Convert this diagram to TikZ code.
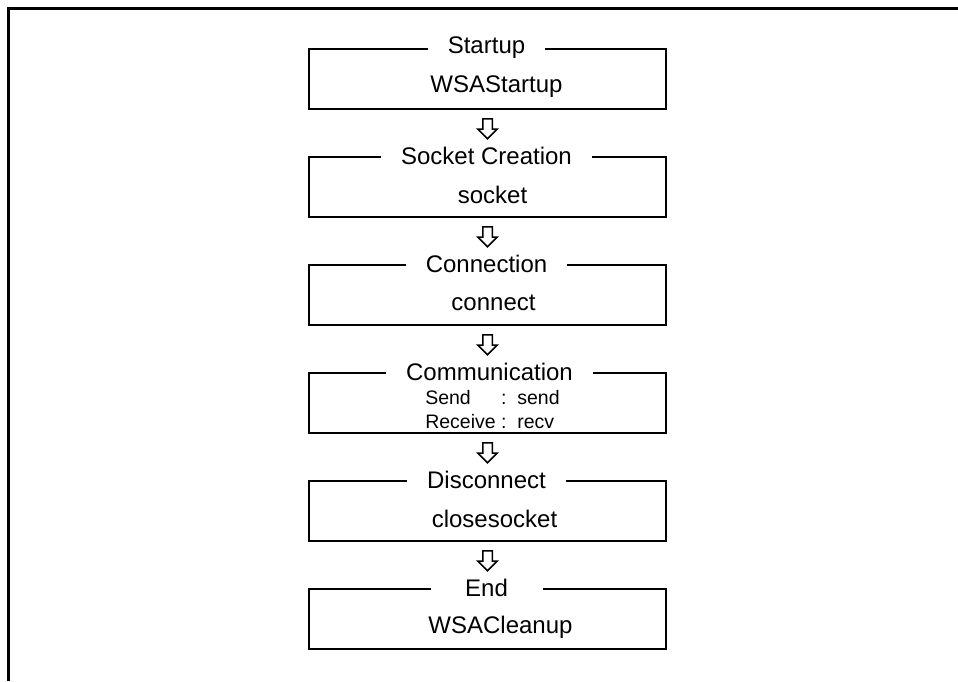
\documentclass[tikz,border=0pt]{standalone}
\usepackage{fontspec}
\setmainfont{Liberation Sans}
\usetikzlibrary{positioning,shapes.arrows}

\begin{document}
\begin{tikzpicture}[
    x=1pt, y=1pt,
    node distance=46pt,
    stage/.style={
        rectangle, draw=black, line width=2pt,
        minimum width=357pt, minimum height=60pt, inner sep=0pt
    },
    title/.style={
        fill=white, inner xsep=20pt, inner ysep=2pt, minimum width=112pt,
        font=\fontsize{24}{28}\selectfont
    },
    body/.style={font=\fontsize{24}{28}\selectfont, inner sep=1pt},
    small/.style={font=\fontsize{19.5}{24}\selectfont, inner sep=1pt},
    flowarr/.style={
        single arrow, draw=black, line width=1.5pt, fill=white,
        shape border rotate=270, minimum height=20pt, minimum width=18pt,
        single arrow head extend=5pt, inner sep=4pt,
        single arrow head indent=0pt
    },
    frame/.style={line width=3pt}
]
\useasboundingbox (0,0) rectangle (958,-681);
% outer frame (cut off at right and bottom)
\draw[frame] (8.5,-681) |- (958,-8.5);
% Stages
\node[stage] (startup) at (487.5,-79) {};
\node[stage, below=of startup] (sock) {};
\node[stage, below=of sock] (conn) {};
\node[stage, below=of conn] (comm) {};
\node[stage, below=of comm] (disc) {};
\node[stage, below=of disc] (fin) {};
% Stage titles on the top edge
\node[title] (t1) at ([xshift=-1pt]startup.north) {Startup};
\node[title] (t2) at ([xshift=-1pt]sock.north) {Socket Creation};
\node[title] (t3) at ([xshift=-1pt]conn.north) {Connection};
\node[title] (t4) at ([xshift=2pt]comm.north) {Communication};
\node[title] (t5) at ([xshift=-1pt]disc.north) {Disconnect};
\node[title] (t6) at ([xshift=-1pt]fin.north) {End};
% API calls
\node[body] (f1) at ([xshift=9pt,yshift=-8pt]startup.center) {WSAStartup};
\node[body] (f2) at ([xshift=5pt,yshift=-8pt]sock.center) {socket};
\node[body] (f3) at ([xshift=6pt,yshift=-8pt]conn.center) {connect};
\node[small] (f4) at ([xshift=5pt,yshift=-9pt]comm.center) {%
    \begin{tabular}{@{}l@{\ :\ \ }l@{}}Send & send\\Receive & recv\end{tabular}};
\node[body] (f5) at ([xshift=7pt,yshift=-8pt]disc.center) {closesocket};
\node[body] (f6) at ([xshift=13pt,yshift=-8pt]fin.center) {WSACleanup};
% Flow arrows
\foreach \a/\b in {startup/a1,sock/a2,conn/a3,comm/a4,disc/a5}
  \node[flowarr, anchor=tail] (\b) at ([yshift=-8pt]\a.south) {};
\end{tikzpicture}
\end{document}
